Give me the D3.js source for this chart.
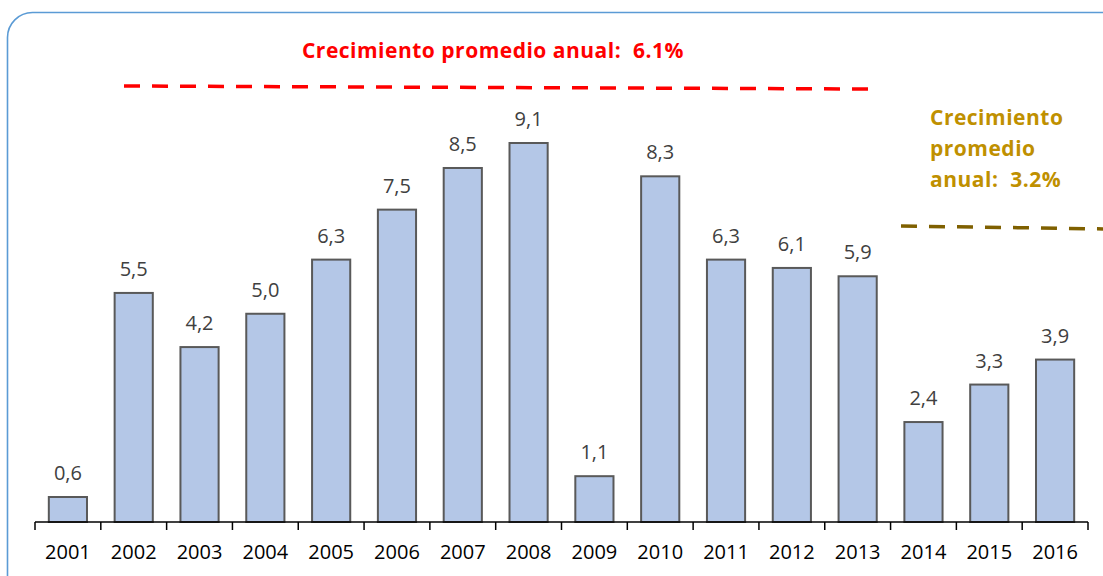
<!DOCTYPE html>
<html>
<head>
<meta charset="utf-8">
<script src="https://cdn.jsdelivr.net/npm/d3@7/dist/d3.min.js"></script>
<style>
  body { margin: 0; background: #fff; }
  svg { display: block; font-family: "Open Sans", sans-serif; }
</style>
</head>
<body>
<svg id="chart" width="1103" height="576"></svg>
<script>
// datos
const years = ['2001','2002','2003','2004','2005','2006','2007','2008',
               '2009','2010','2011','2012','2013','2014','2015','2016'];
const growth = [0.6, 5.5, 4.2, 5.0, 6.3, 7.5, 8.5, 9.1,
                1.1, 8.3, 6.3, 6.1, 5.9, 2.4, 3.3, 3.9];
const avgLabels = ['Crecimiento promedio anual:  6.1%', 'Crecimiento', 'promedio', 'anual:  3.2%'];

const svg = d3.select('#chart');

// marco redondeado (sale por la derecha y abajo)
svg.append('rect')
  .attr('x', 7.5).attr('y', 12.5)
  .attr('width', 1130).attr('height', 600)
  .attr('rx', 25).attr('ry', 25)
  .attr('fill', 'none')
  .attr('stroke', '#5b9bd5')
  .attr('stroke-width', 1.6);

const x = d3.scaleBand()
  .domain(years)
  .range([35, 1088])
  .paddingInner(0.42)
  .paddingOuter(0.21);

const y = d3.scaleLinear()
  .domain([0, 9.1])
  .range([522, 143]);

const data = years.map((yr, i) => ({ yr: yr, v: growth[i] }));

// barras
svg.append('g').selectAll('rect')
  .data(data)
  .join('rect')
  .attr('x', d => x(d.yr))
  .attr('y', d => y(d.v))
  .attr('width', x.bandwidth())
  .attr('height', d => y(0) - y(d.v))
  .attr('fill', '#b4c7e7')
  .attr('stroke', '#595959')
  .attr('stroke-width', 2);

// etiquetas de valor
svg.append('g').selectAll('text')
  .data(data)
  .join('text')
  .attr('x', d => x(d.yr) + x.bandwidth() / 2)
  .attr('y', d => y(d.v) - 17)
  .attr('text-anchor', 'middle')
  .attr('font-size', 20)
  .attr('fill', '#404040')
  .text(d => d.v.toFixed(1).replace('.', ','));

// eje x
const axis = svg.append('g')
  .attr('transform', `translate(0,${y(0)})`)
  .call(d3.axisBottom(x).tickSize(0).tickPadding(23));
axis.select('.domain').remove();
axis.selectAll('text')
  .attr('font-size', 20)
  .attr('font-family', '"Open Sans", sans-serif')
  .attr('fill', '#000');

const x0 = x.range()[0], step = x.step();
axis.append('line')
  .attr('x1', x0).attr('x2', x.range()[1])
  .attr('stroke', '#000').attr('stroke-width', 1.5);
axis.selectAll('line.tk')
  .data(d3.range(years.length + 1))
  .join('line')
  .attr('class', 'tk')
  .attr('x1', i => x0 + i * step).attr('x2', i => x0 + i * step)
  .attr('y1', 0).attr('y2', 8)
  .attr('stroke', '#000').attr('stroke-width', 1.5);

// líneas de promedio
svg.append('line')
  .attr('x1', 124).attr('y1', 86).attr('x2', 868).attr('y2', 89)
  .attr('stroke', '#ff0000').attr('stroke-width', 3.5)
  .attr('stroke-dasharray', '16 12');
svg.append('line')
  .attr('x1', 901).attr('y1', 226).attr('x2', 1110).attr('y2', 229)
  .attr('stroke', '#7f6000').attr('stroke-width', 3.5)
  .attr('stroke-dasharray', '16 12');

svg.append('text')
  .attr('x', 493).attr('y', 58)
  .attr('text-anchor', 'middle')
  .attr('font-size', 21).attr('font-weight', 'bold')
  .attr('letter-spacing', 0.5)
  .attr('fill', '#ff0000')
  .style('white-space', 'pre')
  .text(avgLabels[0]);

const gold = svg.append('text')
  .attr('x', 930).attr('y', 125)
  .attr('font-size', 21).attr('font-weight', 'bold')
  .attr('letter-spacing', 0.5)
  .attr('fill', '#bf9000')
  .style('white-space', 'pre');
avgLabels.slice(1).forEach((t, i) => {
  gold.append('tspan').attr('x', 930).attr('dy', i ? 31 : 0).text(t);
});
</script>
</body>
</html>
